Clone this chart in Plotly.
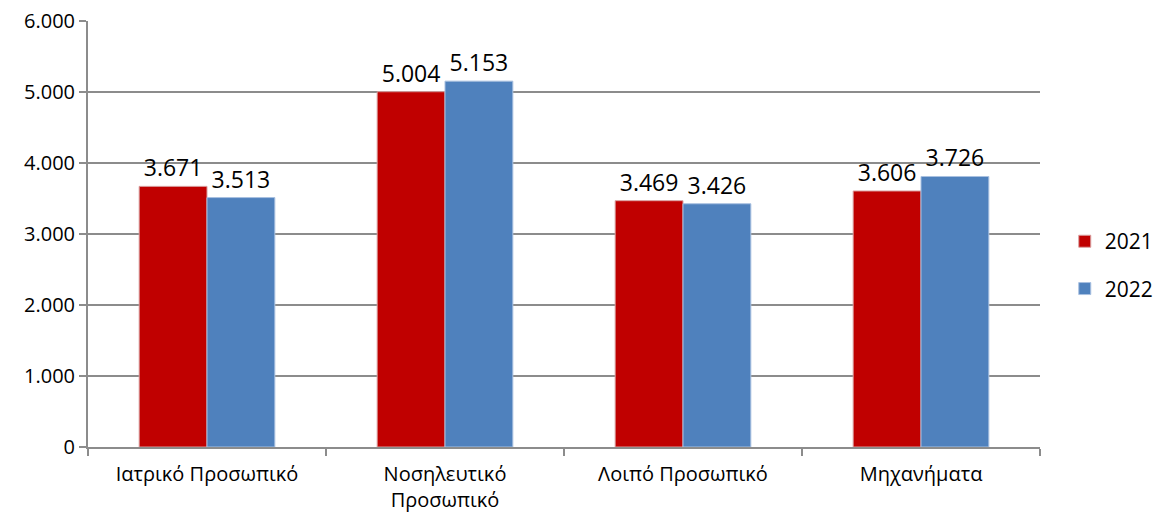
import plotly.graph_objects as go

categories = ["Ιατρικό Προσωπικό", "Νοσηλευτικό<br>Προσωπικό", "Λοιπό Προσωπικό", "Μηχανήματα"]
years = ["2021", "2022"]
values_2021 = [3671, 5004, 3469, 3606]
values_2022 = [3513, 5153, 3426, 3810]
labels_2021 = ["3.671", "5.004", "3.469", "3.606"]
labels_2022 = ["3.513", "5.153", "3.426", "3.726"]
y_ticks = [0, 1000, 2000, 3000, 4000, 5000, 6000]
y_tick_labels = ["0", "1.000", "2.000", "3.000", "4.000", "5.000", "6.000"]

FONT = "Open Sans"
fig = go.Figure()
fig.add_trace(go.Bar(
    x=categories, y=values_2021, name=years[0], text=labels_2021,
    textposition="outside", cliponaxis=False,
    textfont=dict(size=23, color="#000000", family=FONT),
    marker=dict(color="#C00000", line=dict(color="#D9A0A0", width=1)),
    legendgroup="a",
))
fig.add_trace(go.Bar(
    x=categories, y=values_2022, name=years[1], text=labels_2022,
    textposition="outside", cliponaxis=False,
    textfont=dict(size=23, color="#000000", family=FONT),
    marker=dict(color="#4F81BD", line=dict(color="#A8C0E0", width=1)),
    legendgroup="b",
))

fig.update_layout(
    width=1154, height=516,
    margin=dict(l=88, r=114, t=21, b=69, autoexpand=False),
    paper_bgcolor="white", plot_bgcolor="white",
    barmode="group", bargap=0.43, bargroupgap=0,
    font=dict(family=FONT, size=20, color="#000000"),
    separators=",.",
    showlegend=True,
    legend=dict(
        x=1.026, xanchor="left", y=0.427, yanchor="middle",
        font=dict(size=21, family=FONT),
        traceorder="grouped", tracegroupgap=17,
        itemwidth=30,
    ),
    uniformtext=dict(mode=False),
)
fig.update_xaxes(
    type="category", tickson="boundaries", ticks="outside", ticklen=7,
    tickcolor="#8C8C8C", tickwidth=2, automargin=False,
    showline=True, linecolor="#8C8C8C", linewidth=2,
    showgrid=False, tickfont=dict(size=20, family=FONT),
    ticklabelstandoff=8,
)
fig.update_yaxes(
    range=[0, 6000], tickvals=y_ticks, ticktext=y_tick_labels,
    ticks="outside", ticklen=7, tickcolor="#8C8C8C", tickwidth=2,
    showline=True, linecolor="#8C8C8C", linewidth=2, automargin=False,
    showgrid=True, gridcolor="#8C8C8C", gridwidth=2,
    zeroline=False, tickfont=dict(size=20, family=FONT),
)

fig.write_html("out.html", config={"displayModeBar": False},
               post_script="document.body.style.margin='0';")
